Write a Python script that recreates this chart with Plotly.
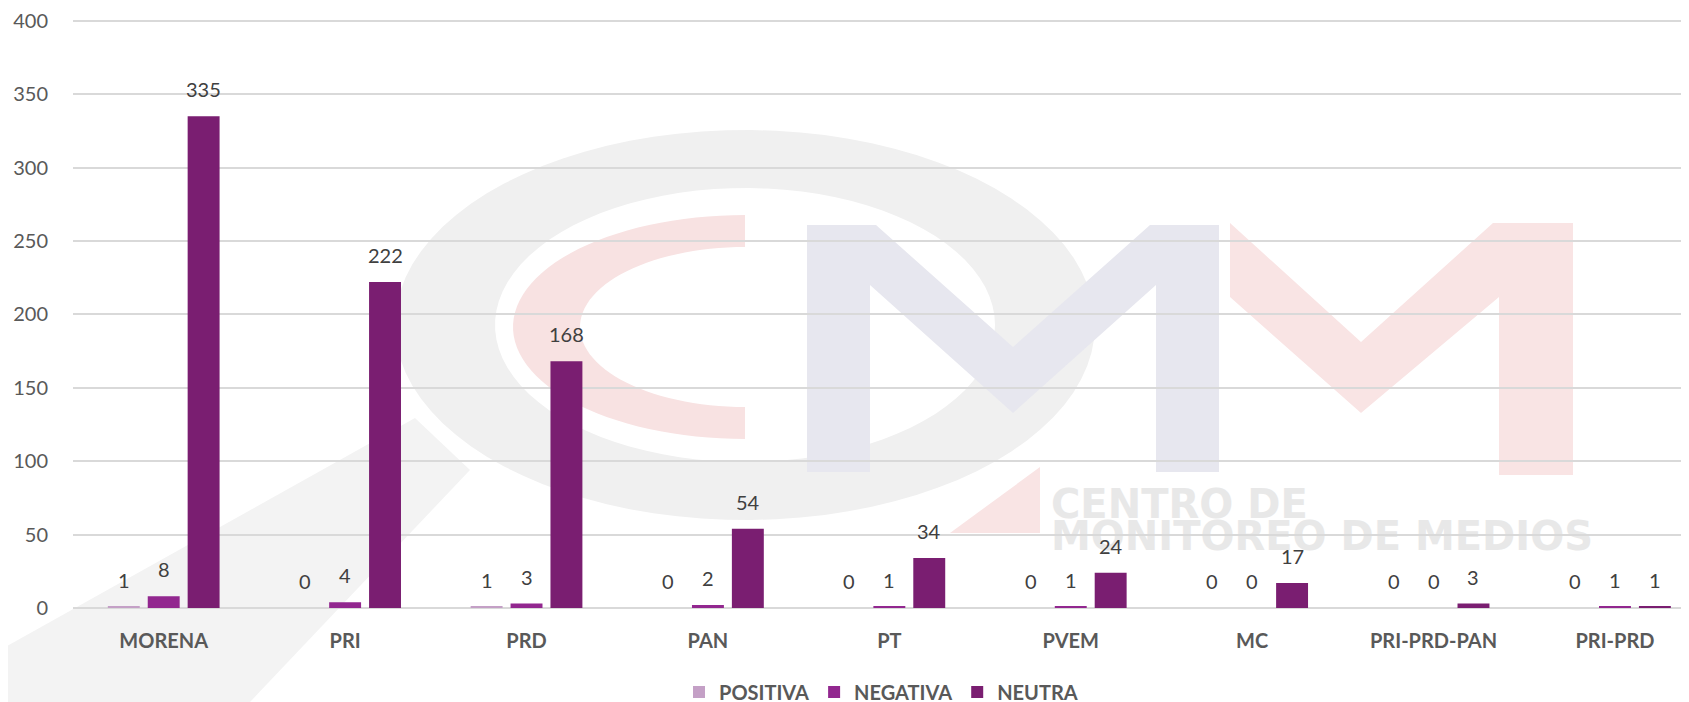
import numpy as np
import plotly.graph_objects as go

categories = ["MORENA", "PRI", "PRD", "PAN", "PT", "PVEM", "MC", "PRI-PRD-PAN", "PRI-PRD"]
positiva = [1, 0, 1, 0, 0, 0, 0, 0, 0]
negativa = [8, 4, 3, 2, 1, 1, 0, 0, 1]
neutra = [335, 222, 168, 54, 34, 24, 17, 3, 1]
series_names = ["POSITIVA", "NEGATIVA", "NEUTRA"]
series_colors = ["#C4A0C6", "#92278F", "#7A1E71"]
y_ticks = [0, 50, 100, 150, 200, 250, 300, 350, 400]

FONT = "Lato"
OFF = 8  # page body margin
W, H = 1681, 702
ML, MR, MT = 65, 0, 11
PW = W - ML - MR
PH = 589
MB = H - MT - PH
BARGAP, GROUPGAP = 0.34, 0.2


def px(x):
    return (x - OFF - ML) / PW


def py(y):
    return (MT + PH - (y - OFF)) / PH


def poly(points):
    return "M " + " L ".join(f"{px(x):.5f},{py(y):.5f}" for x, y in points) + " Z"


def ellipse_pts(cx, cy, rx, ry, a0, a1, n=90):
    t = np.radians(np.linspace(a0, a1, n))
    return list(zip(cx + rx * np.cos(t), cy + ry * np.sin(t)))


fig = go.Figure()
all_series = [positiva, negativa, neutra]
for name, vals, col in zip(series_names, all_series, series_colors):
    fig.add_trace(go.Bar(
        name=name, x=categories, y=vals, marker=dict(color=col, line=dict(width=0)),
    ))

# data labels (outside end), placed through the axes from the data
slot = (1 - BARGAP) / len(all_series)
annotations = []
for k, vals in enumerate(all_series):
    for i, v in enumerate(vals):
        annotations.append(dict(
            x=i + (k - (len(all_series) - 1) / 2) * slot, y=v, xref="x", yref="y",
            text=str(v), showarrow=False, yanchor="bottom", xanchor="center", yshift=13,
            font=dict(family=FONT, size=20, color="#404040"),
        ))

# --- faint watermark (CMM logo) ---
shapes = []
ring_outer = ellipse_pts(745, 325, 350, 195, 0, 360)
ring_inner = ellipse_pts(745, 325, 250, 137, 360, 0)
ring_path = poly(ring_outer) + " " + poly(ring_inner)
shapes.append(dict(type="path", path=ring_path, xref="paper", yref="paper",
                   fillcolor="#F0F0F0", line=dict(width=0), layer="below"))
handle = [(0, 650), (415, 418), (470, 470), (250, 702), (0, 702)]
shapes.append(dict(type="path", path=poly(handle), xref="paper", yref="paper",
                   fillcolor="#F3F3F3", line=dict(width=0), layer="below"))
c_outer = ellipse_pts(745, 327, 232, 112, 270, 90, 60)
c_inner = ellipse_pts(745, 327, 165, 80, 90, 270, 60)
shapes.append(dict(type="path", path=poly(c_outer + c_inner), xref="paper", yref="paper",
                   fillcolor="#F8E2E2", line=dict(width=0), layer="below"))
blue_m = [(807, 225), (876, 225), (1013, 347), (1150, 225), (1219, 225), (1219, 472),
          (1156, 472), (1156, 285), (1013, 413), (870, 285), (870, 472), (807, 472)]
shapes.append(dict(type="path", path=poly(blue_m), xref="paper", yref="paper",
                   fillcolor="#E7E7EF", line=dict(width=0), layer="below"))
red_m = [(1230, 223), (1361, 342), (1493, 223), (1573, 223), (1573, 475), (1499, 475),
         (1499, 297), (1361, 413), (1230, 297)]
shapes.append(dict(type="path", path=poly(red_m), xref="paper", yref="paper",
                   fillcolor="#F9E4E4", line=dict(width=0), layer="below"))
wedge = [(1040, 467), (1040, 533), (950, 533)]
shapes.append(dict(type="path", path=poly(wedge), xref="paper", yref="paper",
                   fillcolor="#F9E4E4", line=dict(width=0), layer="below"))
for txt, y, s in [("CENTRO DE", 501, 40), ("MONITOREO DE MEDIOS", 533, 40)]:
    shapes.append(dict(type="rect", xref="paper", yref="paper",
                       x0=px(1048), x1=px(1048), y0=py(y), y1=py(y),
                       line=dict(width=0), layer="below",
                       label=dict(text=txt, textposition="middle left", padding=0,
                                  font=dict(family="DejaVu Sans", size=s, color="#E8E8E8",
                                            weight="bold"))))

fig.update_layout(
    width=W, height=H,
    margin=dict(l=ML, r=MR, t=MT, b=MB, pad=0, autoexpand=False),
    paper_bgcolor="white", plot_bgcolor="rgba(0,0,0,0)",
    barmode="group", bargap=BARGAP, bargroupgap=GROUPGAP,
    font=dict(family=FONT, color="#595959"),
    shapes=shapes,
    annotations=annotations,
    showlegend=True,
    legend=dict(orientation="h", x=0.5, xanchor="center", y=py(692), yanchor="middle",
                font=dict(family=FONT, size=20, color="#595959", weight="bold"),
                itemwidth=30, traceorder="normal"),
    xaxis=dict(range=[-0.5, 8.408], showgrid=False, showline=False, zeroline=False,
               ticks="", tickfont=dict(family=FONT, size=20, color="#595959", weight="bold"),
               ticklabelstandoff=19, automargin=False, ticklabeloverflow="allow"),
    yaxis=dict(range=[0, 401.2], tickvals=y_ticks,
               showgrid=True, gridcolor="#D9D9D9", gridwidth=1.5,
               zeroline=True, zerolinecolor="#D9D9D9", zerolinewidth=1.5, showline=False,
               ticks="", tickfont=dict(family=FONT, size=20, color="#595959"),
               ticklabelstandoff=24, automargin=False, ticklabeloverflow="allow"),
)

fig.write_html("out.html")
